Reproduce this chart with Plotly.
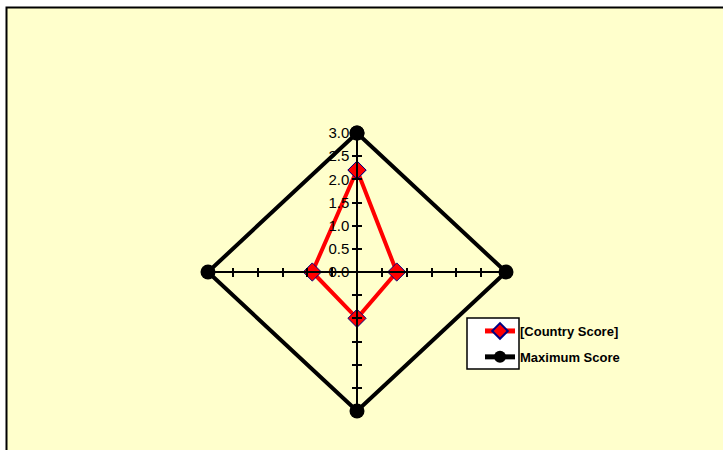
import numpy as np
import plotly.graph_objects as go

W, H = 723, 450
BG_COLOR = "#FFFFCC"
FONT = "Arial, Liberation Sans, sans-serif"

# scores read clockwise from the top spoke
country_score = [2.2, 0.8, 1.0, 0.9]
max_score = [3.0, 3.0, 3.0, 3.0]
series_names = ["[Country Score]", "Maximum Score"]
tick_vals = [-3.0, -2.5, -2.0, -1.5, -1.0, -0.5, 0.0, 0.5, 1.0, 1.5, 2.0, 2.5, 3.0]


def to_xy(values):
    """radar values -> cartesian points, closed loop"""
    vals = np.array(list(values) + [values[0]], dtype=float)
    ang = np.deg2rad(90 - 90 * np.arange(len(vals)))
    return vals * np.cos(ang), vals * np.sin(ang)


# plot area in pixels (centre of radar ~ 357, 272)
x_dom = [208 / W, 506 / W]
y_dom = [(H - 411) / H, (H - 133) / H]
x_mid = sum(x_dom) / 2
y_mid = sum(y_dom) / 2

fig = go.Figure()

mx, my = to_xy(max_score)
fig.add_trace(go.Scatter(
    x=mx, y=my, mode="lines+markers", name=series_names[1],
    line=dict(color="black", width=4),
    marker=dict(symbol="circle", size=15, color="black"),
    cliponaxis=False, legendrank=2, legendgroup="max",
))

cx, cy = to_xy(country_score)
fig.add_trace(go.Scatter(
    x=cx, y=cy, mode="lines+markers", name=series_names[0],
    line=dict(color="#FF0000", width=4),
    marker=dict(symbol="diamond", size=14, color="#FF0000",
                line=dict(color="#000080", width=1)),
    cliponaxis=False, legendrank=1, legendgroup="country",
))

axis_common = dict(
    range=[-3, 3], showgrid=False, zeroline=False, showline=True,
    linecolor="black", linewidth=1.5, tickvals=tick_vals,
    tickcolor="black", tickwidth=1.5, ticklen=4, anchor="free",
    fixedrange=True, automargin=False,
)

fig.update_layout(
    width=W, height=H,
    margin=dict(l=0, r=0, t=0, b=0, pad=0, autoexpand=False),
    paper_bgcolor="white",
    plot_bgcolor="rgba(0,0,0,0)",
    font=dict(family=FONT, color="black", size=14),
    xaxis=dict(axis_common, domain=x_dom, position=y_mid, ticks="outside",
               showticklabels=False),
    xaxis2=dict(axis_common, overlaying="x", position=y_mid, ticks="inside",
                showticklabels=False, showline=False),
    yaxis=dict(axis_common, domain=y_dom, position=x_mid, ticks="outside",
               ticktext=["" if v < 0 else f"{v:.1f}" for v in tick_vals],
               tickfont=dict(size=15)),
    yaxis2=dict(axis_common, overlaying="y", position=x_mid, ticks="inside",
                showticklabels=False, showline=False),
    showlegend=True,
    legend=dict(
        x=480 / W, y=(H - 316) / H, xanchor="left", yanchor="top",
        bgcolor="rgba(0,0,0,0)", borderwidth=0, itemsizing="constant",
        traceorder="grouped", tracegroupgap=6,
        font=dict(family=FONT, size=13, color="black", weight="bold"),
    ),
    shapes=[
        # chart area with border on top / left
        dict(type="rect", xref="paper", yref="paper",
             x0=6.5 / W, x1=1.2, y0=-0.2, y1=(H - 7.5) / H,
             fillcolor=BG_COLOR, line=dict(color="black", width=2),
             layer="below"),
        # white legend key box
        dict(type="rect", xref="paper", yref="paper",
             x0=467 / W, x1=519 / W, y0=(H - 369) / H, y1=(H - 318) / H,
             fillcolor="white", line=dict(color="black", width=1.5),
             layer="above"),
    ],
)

# dummy trace so the overlay axes get drawn
fig.add_trace(go.Scatter(x=[None], y=[None], xaxis="x2", yaxis="y2",
                         showlegend=False, hoverinfo="skip"))

# pin the graph to the page corner
pin = ("document.body.style.margin='0';"
       "var d=document.getElementById('{plot_id}');"
       "d.style.position='fixed';d.style.top='0';d.style.left='0';")
fig.write_html("out.html", config={"displayModeBar": False}, post_script=pin)
